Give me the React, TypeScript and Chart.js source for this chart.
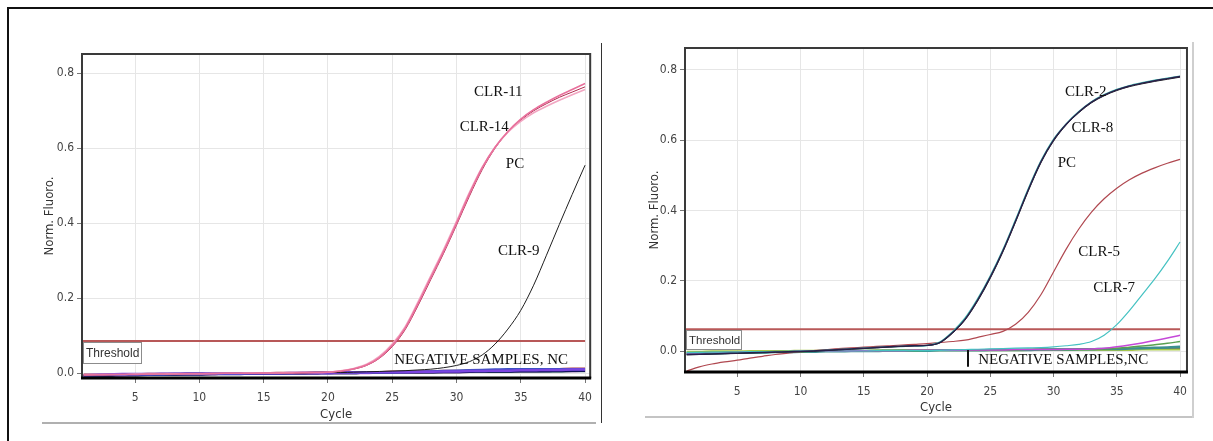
import React, { useEffect, useRef } from "react";
import { Chart, registerables } from "chart.js";
Chart.register(...registerables);

// ---------- shared axis data ----------
const cycles = [1,2,3,4,5,6,7,8,9,10,11,12,13,14,15,16,17,18,19,20,21,22,23,24,25,26,27,28,29,30,31,32,33,34,35,36,37,38,39,40];
const xTicks = [5,10,15,20,25,30,35,40];
const yTicks = [0,0.2,0.4,0.6,0.8];

// ---------- left panel series ----------
const leftClr11 = [-0.004,-0.004,-0.003,-0.003,-0.003,-0.002,-0.002,-0.002,-0.001,-0.001,-0.001,0,0,0,0.001,0.001,0.001,0.002,0.002,0.003,0.006,0.012,0.022,0.042,0.074,0.12,0.185,0.255,0.325,0.40,0.478,0.548,0.603,0.645,0.678,0.703,0.723,0.741,0.757,0.773];
const leftClr14 = [-0.005,-0.004,-0.004,-0.003,-0.003,-0.002,-0.002,-0.002,-0.001,-0.001,-0.001,0,0,0,0,0.001,0.001,0.001,0.002,0.003,0.005,0.011,0.021,0.040,0.071,0.116,0.180,0.250,0.320,0.395,0.472,0.543,0.600,0.643,0.675,0.700,0.719,0.736,0.750,0.764];
const leftPc = [-0.004,-0.003,-0.003,-0.003,-0.002,-0.002,-0.002,-0.001,-0.001,-0.001,0,0,0,0.001,0.001,0.001,0.002,0.002,0.002,0.003,0.007,0.013,0.024,0.045,0.078,0.124,0.190,0.260,0.330,0.405,0.482,0.550,0.603,0.643,0.672,0.695,0.712,0.728,0.743,0.757];
const leftClr9 = [-0.005,-0.004,-0.004,-0.003,-0.003,-0.002,-0.002,-0.001,-0.001,-0.001,0,0,0,0,0.001,0.001,0.001,0.001,0.002,0.002,0.002,0.003,0.004,0.005,0.006,0.007,0.009,0.011,0.015,0.021,0.031,0.049,0.078,0.118,0.168,0.235,0.315,0.397,0.477,0.555];
const leftNeg1 = [-0.005,-0.004,-0.003,-0.002,-0.002,-0.002,-0.001,-0.001,-0.001,-0.001,0,0,0,0,0,0,0.001,0.001,0.001,0.001,0.002,0.002,0.002,0.003,0.003,0.003,0.004,0.004,0.005,0.005,0.006,0.006,0.007,0.007,0.008,0.008,0.009,0.009,0.010,0.010];
const leftNeg2 = [-0.006,-0.005,-0.004,-0.004,-0.003,-0.003,-0.003,-0.002,-0.002,-0.002,-0.001,-0.001,-0.001,0,0,0,0,0.001,0.001,0.001,0.002,0.002,0.002,0.003,0.003,0.004,0.004,0.005,0.006,0.007,0.008,0.009,0.010,0.011,0.011,0.011,0.011,0.011,0.011,0.011];
const leftNeg3 = [-0.007,-0.006,-0.006,-0.005,-0.005,-0.004,-0.004,-0.003,-0.003,-0.003,-0.002,-0.002,-0.002,-0.001,-0.001,-0.001,0,0,0,0.001,0.001,0.001,0.002,0.002,0.002,0.003,0.003,0.003,0.004,0.004,0.004,0.005,0.005,0.005,0.006,0.006,0.006,0.007,0.007,0.007];
const leftNeg4 = [-0.006,-0.005,-0.005,-0.004,-0.004,-0.003,-0.003,-0.003,-0.002,-0.002,-0.002,-0.001,-0.001,-0.001,0,0,0,0,0.001,0.001,0.001,0.001,0.002,0.002,0.002,0.002,0.003,0.003,0.003,0.003,0.004,0.004,0.004,0.004,0.005,0.005,0.005,0.005,0.006,0.006];
const leftNeg5 = [-0.008,-0.007,-0.006,-0.005,-0.004,-0.004,-0.003,-0.003,-0.002,-0.002,-0.002,-0.001,-0.001,-0.001,0,0,0,0,0,0.001,0.001,0.001,0.001,0.002,0.002,0.002,0.002,0.003,0.003,0.003,0.004,0.004,0.004,0.005,0.005,0.005,0.006,0.006,0.006,0.007];
const leftNc = [-0.004,-0.004,-0.003,-0.003,-0.003,-0.002,-0.002,-0.002,-0.001,-0.001,-0.001,0,0,0,0,0.001,0.001,0.001,0.002,0.002,0.002,0.003,0.003,0.003,0.004,0.004,0.005,0.005,0.006,0.006,0.007,0.007,0.008,0.008,0.009,0.009,0.010,0.011,0.012,0.012];
const leftThreshold = 0.086;
const leftNoteText = ["CLR-11","CLR-14","PC","CLR-9","NEGATIVE SAMPLES, NC"];
const leftNoteX = [31.36,30.25,33.84,33.22,25.16];
const leftNoteY = [0.751,0.656,0.558,0.326,0.0355];

// ---------- right panel series ----------
const rightClr2 = [-0.010,-0.009,-0.008,-0.007,-0.006,-0.005,-0.004,-0.003,-0.002,-0.001,0,0.002,0.004,0.006,0.008,0.010,0.012,0.014,0.015,0.016,0.024,0.052,0.09,0.145,0.21,0.285,0.37,0.458,0.538,0.600,0.645,0.680,0.708,0.728,0.743,0.754,0.762,0.769,0.775,0.781];
const rightClr8 = [-0.011,-0.010,-0.009,-0.008,-0.007,-0.006,-0.005,-0.004,-0.003,-0.002,-0.001,0.001,0.003,0.005,0.007,0.009,0.011,0.013,0.015,0.016,0.023,0.050,0.088,0.142,0.207,0.282,0.367,0.455,0.535,0.597,0.643,0.678,0.706,0.726,0.741,0.752,0.760,0.767,0.773,0.779];
const rightPc = [-0.009,-0.009,-0.008,-0.007,-0.006,-0.005,-0.004,-0.003,-0.002,-0.001,0,0.002,0.004,0.006,0.008,0.010,0.012,0.013,0.014,0.016,0.025,0.054,0.093,0.148,0.213,0.288,0.373,0.461,0.540,0.602,0.646,0.681,0.709,0.729,0.744,0.755,0.763,0.770,0.776,0.782];
const rightClr5 = [-0.057,-0.045,-0.037,-0.031,-0.026,-0.020,-0.015,-0.010,-0.006,-0.002,0.001,0.004,0.007,0.009,0.011,0.013,0.015,0.017,0.019,0.021,0.024,0.027,0.031,0.039,0.047,0.056,0.076,0.11,0.16,0.225,0.29,0.347,0.395,0.433,0.463,0.487,0.506,0.521,0.534,0.545];
const rightClr7 = [-0.004,-0.004,-0.003,-0.003,-0.003,-0.002,-0.002,-0.002,-0.001,-0.001,-0.001,0,0,0,0,0.001,0.001,0.001,0.001,0.001,0.002,0.003,0.004,0.005,0.006,0.007,0.008,0.009,0.010,0.012,0.015,0.019,0.027,0.045,0.075,0.115,0.16,0.205,0.255,0.31];
const rightNeg1 = [-0.008,-0.007,-0.006,-0.005,-0.004,-0.003,-0.003,-0.002,-0.002,-0.001,-0.001,0,0,0,0.001,0.001,0.001,0.001,0.002,0.002,0.002,0.002,0.003,0.003,0.003,0.003,0.004,0.004,0.004,0.004,0.005,0.005,0.006,0.008,0.012,0.017,0.023,0.030,0.037,0.045];
const rightNeg2 = [-0.006,-0.006,-0.005,-0.005,-0.004,-0.004,-0.003,-0.003,-0.002,-0.002,-0.001,-0.001,0,0,0,0.001,0.001,0.001,0.001,0.002,0.002,0.002,0.002,0.003,0.003,0.003,0.003,0.004,0.004,0.004,0.004,0.005,0.005,0.006,0.008,0.011,0.014,0.018,0.022,0.027];
const rightNeg3 = [-0.007,-0.006,-0.006,-0.005,-0.005,-0.004,-0.004,-0.003,-0.003,-0.002,-0.002,-0.001,-0.001,0,0,0,0.001,0.001,0.001,0.001,0.002,0.002,0.002,0.002,0.003,0.003,0.003,0.003,0.004,0.004,0.004,0.005,0.005,0.006,0.006,0.007,0.008,0.009,0.010,0.012];
const rightNeg4 = [-0.002,-0.002,-0.001,-0.001,-0.001,0,0,0,0,0.001,0.001,0.001,0.001,0.001,0.001,0.002,0.002,0.002,0.002,0.002,0.002,0.002,0.002,0.002,0.002,0.002,0.002,0.003,0.003,0.003,0.003,0.003,0.003,0.003,0.003,0.003,0.004,0.004,0.004,0.004];
const rightNeg5 = [-0.009,-0.008,-0.007,-0.006,-0.005,-0.004,-0.004,-0.003,-0.002,-0.002,-0.001,-0.001,0,0,0.001,0.001,0.001,0.002,0.002,0.002,0.002,0.003,0.003,0.003,0.003,0.004,0.004,0.004,0.004,0.005,0.005,0.005,0.005,0.005,0.006,0.006,0.006,0.006,0.007,0.007];
const rightThreshold = 0.062;
const rightNoteText = ["CLR-2","CLR-8","PC","CLR-5","CLR-7","NEGATIVE SAMPLES,NC"];
const rightNoteX = [30.9,31.43,30.33,31.96,33.14,24.05];
const rightNoteY = [0.738,0.635,0.534,0.2825,0.178,-0.0256];
const rightBarX = [23.2];
const rightBarY = [0.003,-0.045];

const SANS = '"Liberation Sans Narrow", "Arial Narrow", "DejaVu Sans Condensed", sans-serif';
const BOXSANS = '"Liberation Sans", Arial, Helvetica, sans-serif';
const SERIF = '"Liberation Serif", "Times New Roman", Times, serif';

type SeriesDef = { data: number[]; color: string; width: number };

const toPoints = (vals: number[]) => vals.map((v, i) => ({ x: cycles[i], y: v }));

const decorPlugin = {
  id: "panelDecor",
  afterDatasetsDraw(chart: any, _args: any, opts: any) {
    const { ctx, chartArea: a } = chart;
    const xs = chart.scales.x;
    const ys = chart.scales.y;
    ctx.save();
    // notes
    ctx.font = `${opts.noteFont}px ${SERIF}`;
    ctx.fillStyle = "#111";
    ctx.textAlign = "left";
    ctx.textBaseline = "middle";
    opts.noteText.forEach((t: string, i: number) => {
      ctx.fillText(t, xs.getPixelForValue(opts.noteX[i]), ys.getPixelForValue(opts.noteY[i]));
    });
    if (opts.barX) {
      ctx.strokeStyle = "#111";
      ctx.lineWidth = 2;
      opts.barX.forEach((bx: number) => {
        const px = Math.round(xs.getPixelForValue(bx));
        ctx.beginPath();
        ctx.moveTo(px, ys.getPixelForValue(opts.barY[0]));
        ctx.lineTo(px, ys.getPixelForValue(opts.barY[1]));
        ctx.stroke();
      });
    }
    // threshold box
    const ty = Math.round(ys.getPixelForValue(opts.threshold));
    ctx.fillStyle = "#ffffff";
    ctx.fillRect(a.left + 1, ty + 1, opts.boxW, opts.boxH);
    ctx.strokeStyle = "#8c8c8c";
    ctx.lineWidth = 1;
    ctx.strokeRect(a.left + 1.5, ty + 1.5, opts.boxW, opts.boxH);
    ctx.font = `${opts.boxFont}px ${BOXSANS}`;
    ctx.fillStyle = "#333";
    ctx.textBaseline = "middle";
    ctx.fillText("Threshold", a.left + 4, ty + 2 + opts.boxH / 2);
    // plot frame
    ctx.strokeStyle = "#3a3a3a";
    ctx.lineWidth = 2;
    ctx.beginPath();
    ctx.moveTo(a.left, a.bottom);
    ctx.lineTo(a.left, a.top);
    ctx.lineTo(a.right, a.top);
    ctx.lineTo(a.right, a.bottom);
    ctx.stroke();
    ctx.strokeStyle = "#000";
    ctx.lineWidth = 3;
    ctx.beginPath();
    ctx.moveTo(a.left - 1, a.bottom);
    ctx.lineTo(a.right + 1, a.bottom);
    ctx.stroke();
    ctx.restore();
  },
};

type PanelCfg = {
  left: number; top: number; w: number; h: number;
  yAxisW: number; xAxisH: number; padTop: number; padRight: number;
  xMin: number; xMax: number; yMin: number; yMax: number;
  yTitlePad: number; xTitlePad: number;
  series: SeriesDef[]; threshold: number; thresholdEnd: number;
  noteText: string[]; noteX: number[]; noteY: number[];
  barX?: number[]; barY?: number[];
  boxW: number; boxH: number; boxFont: number; noteFont: number;
};

function Panel({ cfg }: { cfg: PanelCfg }) {
  const ref = useRef<HTMLCanvasElement>(null);
  useEffect(() => {
    const datasets: any[] = cfg.series.map((s) => ({
      data: toPoints(s.data),
      borderColor: s.color,
      borderWidth: s.width,
      pointRadius: 0,
      fill: false,
      cubicInterpolationMode: "monotone",
    }));
    datasets.push({
      data: [{ x: cfg.xMin, y: cfg.threshold }, { x: cfg.thresholdEnd, y: cfg.threshold }],
      borderColor: "#b85858",
      borderWidth: 2,
      pointRadius: 0,
      fill: false,
    });
    const chart = new Chart(ref.current!, {
      type: "line",
      data: { datasets },
      plugins: [decorPlugin],
      options: {
        responsive: false,
        animation: false,
        devicePixelRatio: 1,
        layout: { padding: { top: cfg.padTop, right: cfg.padRight, left: 0, bottom: 0 } },
        plugins: {
          legend: { display: false },
          tooltip: { enabled: false },
          panelDecor: {
            threshold: cfg.threshold,
            noteText: cfg.noteText, noteX: cfg.noteX, noteY: cfg.noteY,
            barX: cfg.barX, barY: cfg.barY,
            boxW: cfg.boxW, boxH: cfg.boxH, boxFont: cfg.boxFont, noteFont: cfg.noteFont,
          },
        } as any,
        scales: {
          x: {
            type: "linear",
            min: cfg.xMin,
            max: cfg.xMax,
            afterBuildTicks: (s: any) => { s.ticks = xTicks.map((v) => ({ value: v })); },
            afterFit: (s: any) => { s.height = cfg.xAxisH; },
            grid: { color: "#e6e6e6", lineWidth: 1, tickLength: 5, tickColor: "#777" },
            border: { display: false },
            ticks: { font: { family: SANS, size: 12 }, color: "#444", padding: 8, maxRotation: 0 },
            title: { display: true, text: "Cycle", font: { family: SANS, size: 13 }, color: "#333", padding: { top: 0, bottom: cfg.xTitlePad } },
          },
          y: {
            type: "linear",
            min: cfg.yMin,
            max: cfg.yMax,
            afterBuildTicks: (s: any) => { s.ticks = yTicks.map((v) => ({ value: v })); },
            afterFit: (s: any) => { s.width = cfg.yAxisW; },
            grid: { color: "#e6e6e6", lineWidth: 1, tickLength: 5, tickColor: "#777" },
            border: { display: false },
            ticks: { font: { family: SANS, size: 12 }, color: "#444", padding: 3, callback: (v: any) => Number(v).toFixed(1) },
            title: { display: true, text: "Norm. Fluoro.", font: { family: SANS, size: 13 }, color: "#333", padding: { top: cfg.yTitlePad, bottom: 0 } },
          },
        },
      } as any,
    });
    return () => chart.destroy();
  }, []);
  return (
    <canvas
      ref={ref}
      width={cfg.w}
      height={cfg.h}
      style={{ position: "absolute", left: cfg.left, top: cfg.top, width: cfg.w, height: cfg.h }}
    />
  );
}

const leftCfg: PanelCfg = {
  left: 30, top: 40, w: 570, h: 390,
  yAxisW: 52, xAxisH: 52, padTop: 14, padRight: 8,
  xMin: 0.87, xMax: 40.4, yMin: -0.0125, yMax: 0.8515,
  yTitlePad: 12.2, xTitlePad: 7.2,
  series: [
    { data: leftClr11, color: "#e8709c", width: 1.6 },
    { data: leftPc, color: "#f2a6c2", width: 1.6 },
    { data: leftClr14, color: "#b02a4e", width: 1 },
    { data: leftClr9, color: "#1e1e1e", width: 1 },
    { data: leftNeg1, color: "#7b44e0", width: 2.5 },
    { data: leftNeg2, color: "#3d52c4", width: 2.5 },
    { data: leftNeg3, color: "#14145a", width: 2.5 },
    { data: leftNeg4, color: "#3a6868", width: 2.5 },
    { data: leftNeg5, color: "#e050d8", width: 2.5 },
    { data: leftNc, color: "#a83a4a", width: 2.5 },
  ],
  threshold: leftThreshold, thresholdEnd: 40,
  noteText: leftNoteText, noteX: leftNoteX, noteY: leftNoteY,
  boxW: 58, boxH: 21, boxFont: 12, noteFont: 15,
};

const rightCfg: PanelCfg = {
  left: 630, top: 35, w: 565, h: 390,
  yAxisW: 55, xAxisH: 53, padTop: 13, padRight: 8,
  xMin: 0.866, xMax: 40.55, yMin: -0.0597, yMax: 0.862,
  yTitlePad: 16.4, xTitlePad: 9.2,
  series: [
    { data: rightClr2, color: "#2a1f4a", width: 1.4 },
    { data: rightClr8, color: "#222222", width: 1 },
    { data: rightPc, color: "#3fb8b0", width: 1.5 },
    { data: rightClr5, color: "#b04850", width: 1.2 },
    { data: rightClr7, color: "#45c2c2", width: 1.2 },
    { data: rightNeg1, color: "#c548d8", width: 1.5 },
    { data: rightNeg2, color: "#5aa050", width: 1.5 },
    { data: rightNeg3, color: "#3d8f8f", width: 2.5 },
    { data: rightNeg4, color: "#a8c84a", width: 2 },
    { data: rightNeg5, color: "#4a4a6a", width: 1.5 },
  ],
  threshold: rightThreshold, thresholdEnd: 40,
  noteText: rightNoteText, noteX: rightNoteX, noteY: rightNoteY,
  barX: rightBarX, barY: rightBarY,
  boxW: 55, boxH: 19, boxFont: 11.5, noteFont: 15,
};

export default function App() {
  return (
    <div style={{ position: "absolute", left: 0, top: 0, width: 1213, height: 441, background: "#fff", overflow: "hidden" }}>
      {/* outer figure frame */}
      <div style={{ position: "absolute", left: 7, top: 7, width: 1220, height: 440, borderLeft: "2px solid #111", borderTop: "2px solid #111" }} />
      {/* left screenshot edges */}
      <div style={{ position: "absolute", left: 42, top: 422, width: 554, height: 2, background: "#b0b0b0" }} />
      <div style={{ position: "absolute", left: 601, top: 43, width: 1, height: 380, background: "#333" }} />
      {/* right screenshot edges */}
      <div style={{ position: "absolute", left: 645, top: 416, width: 549, height: 2, background: "#c4c4c4" }} />
      <div style={{ position: "absolute", left: 1192, top: 42, width: 2, height: 376, background: "#cfcfcf" }} />
      <Panel cfg={leftCfg} />
      <Panel cfg={rightCfg} />
    </div>
  );
}
